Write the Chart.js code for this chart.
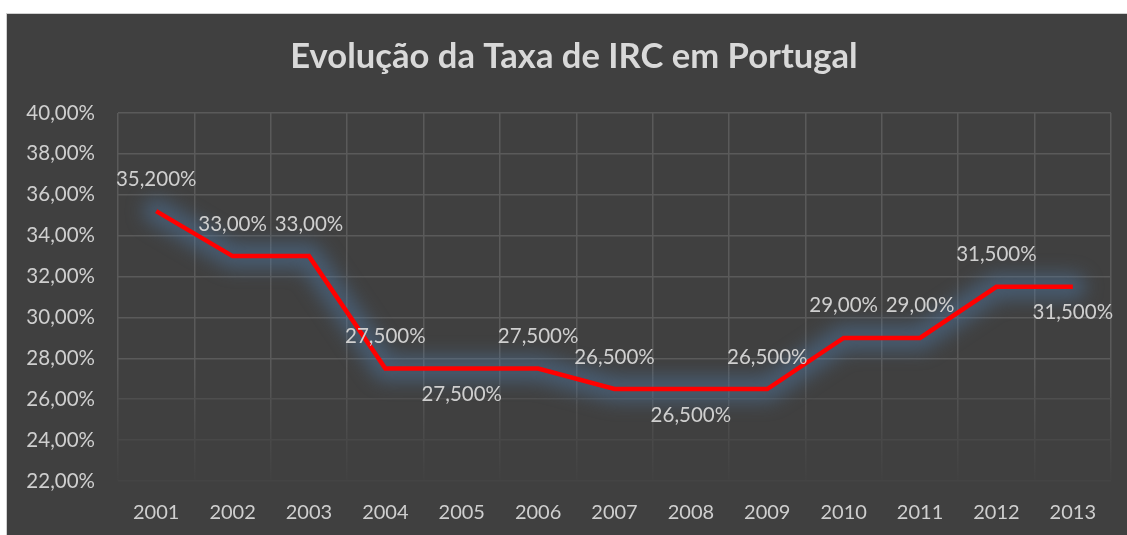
<!DOCTYPE html>
<html>
<head>
<meta charset="utf-8">
<script src="https://cdn.jsdelivr.net/npm/chart.js@4.4.1/dist/chart.umd.min.js"></script>
<style>
    html, body { margin: 0; padding: 0; background: #ffffff; overflow: hidden; }
    #frame {
        position: absolute; left: 6px; top: 13px;
        width: 1121px; height: 522px;
        background: #404040;
        border-left: 1px solid #d0d0d0; border-top: 1px solid #d0d0d0;
    }
    #chart-box { position: absolute; left: 0; top: 0; width: 1121px; height: 522px; }
</style>
</head>
<body>
<div id="frame"><div id="chart-box"><canvas id="irc-chart"></canvas></div></div>
<script>
// Dados
const anos = ['2001', '2002', '2003', '2004', '2005', '2006', '2007', '2008', '2009', '2010', '2011', '2012', '2013'];
const taxaIRC = [35.2, 33, 33, 27.5, 27.5, 27.5, 26.5, 26.5, 26.5, 29, 29, 31.5, 31.5];
const rotulos = ['35,200%', '33,00%', '33,00%', '27,500%', '27,500%', '27,500%', '26,500%', '26,500%', '26,500%', '29,00%', '29,00%', '31,500%', '31,500%'];
const ladoRotulo = ['top', 'top', 'top', 'top', 'bottom', 'top', 'top', 'bottom', 'top', 'top', 'top', 'top', 'bottom'];
const titulo = 'Evolução da Taxa de IRC em Portugal';

const FONTE = 'Lato, "Open Sans", sans-serif';
const COR_TEXTO = '#cfcfcf';

// Título desenhado à mão (centrado como no Excel)
const tituloPlugin = {
    id: 'titulo',
    afterDraw(chart) {
        const ctx = chart.ctx;
        ctx.save();
        ctx.font = 'bold 34.6px ' + FONTE;
        ctx.fillStyle = '#d9d9d9';
        ctx.textAlign = 'center';
        ctx.textBaseline = 'middle';
        ctx.fillText(titulo, 567, 43);
        ctx.restore();
    }
};

// Brilho azulado à volta da linha (como no Excel)
const glowPlugin = {
    id: 'glow',
    beforeDatasetDraw(chart) {
        const ctx = chart.ctx;
        const pts = chart.getDatasetMeta(0).data;
        ctx.save();
        ctx.filter = 'blur(9px)';
        ctx.strokeStyle = 'rgba(80, 125, 170, 0.45)';
        ctx.lineWidth = 26;
        ctx.lineJoin = 'round';
        ctx.lineCap = 'round';
        ctx.beginPath();
        pts.forEach((p, i) => i === 0 ? ctx.moveTo(p.x, p.y) : ctx.lineTo(p.x, p.y));
        ctx.stroke();
        ctx.restore();
    }
};

// Rótulos de dados por cima / por baixo dos pontos
const rotulosPlugin = {
    id: 'rotulos',
    afterDatasetsDraw(chart) {
        const ctx = chart.ctx;
        const meta = chart.getDatasetMeta(0);
        ctx.save();
        ctx.font = '20.5px ' + FONTE;
        ctx.fillStyle = COR_TEXTO;
        ctx.textAlign = 'center';
        ctx.textBaseline = 'middle';
        meta.data.forEach((pt, i) => {
            const dy = ladoRotulo[i] === 'top' ? -32 : 26;
            ctx.fillText(rotulos[i], pt.x, pt.y + dy);
        });
        ctx.restore();
    }
};

function corGrelhaY(ctx) {
    const v = ctx.tick ? ctx.tick.value : 40;
    if (v <= 22) return '#444444';
    if (v <= 24) return '#484848';
    if (v <= 26) return '#4e4e4e';
    return '#5a5a5a';
}

function corGrelhaX(ctx) {
    const area = ctx.chart.chartArea;
    if (!area) return '#5a5a5a';
    const g = ctx.chart.ctx.createLinearGradient(0, area.top, 0, area.bottom);
    g.addColorStop(0, '#5a5a5a');
    g.addColorStop(0.68, '#5a5a5a');
    g.addColorStop(0.85, '#4c4c4c');
    g.addColorStop(1, '#414141');
    return g;
}

new Chart(document.getElementById('irc-chart'), {
    type: 'line',
    data: {
        labels: anos,
        datasets: [{
            data: taxaIRC,
            borderColor: '#ff0000',
            borderWidth: 4.5,
            pointRadius: 0,
            tension: 0,
            fill: false,
            borderJoinStyle: 'miter'
        }]
    },
    options: {
        responsive: true,
        maintainAspectRatio: false,
        animation: false,
        layout: { padding: { left: 0, right: 17, top: 99, bottom: 0 } },
        plugins: {
            legend: { display: false },
            tooltip: { enabled: false },
            title: { display: false }
        },
        scales: {
            x: {
                offset: true,
                border: { display: false },
                grid: { offset: true, color: corGrelhaX, lineWidth: 1.5, drawTicks: false },
                ticks: { color: COR_TEXTO, padding: 20, font: { family: FONTE, size: 20 } },
                afterFit(scale) { scale.height = 55; }
            },
            y: {
                min: 22,
                max: 40,
                border: { display: false },
                grid: { color: corGrelhaY, lineWidth: 1.5, drawTicks: false },
                ticks: {
                    stepSize: 2,
                    color: COR_TEXTO,
                    padding: 23,
                    font: { family: FONTE, size: 20.5 },
                    callback: v => v.toFixed(2).replace('.', ',') + '%'
                },
                afterFit(scale) { scale.width = 111; }
            }
        }
    },
    plugins: [glowPlugin, rotulosPlugin, tituloPlugin]
});
</script>
</body>
</html>
